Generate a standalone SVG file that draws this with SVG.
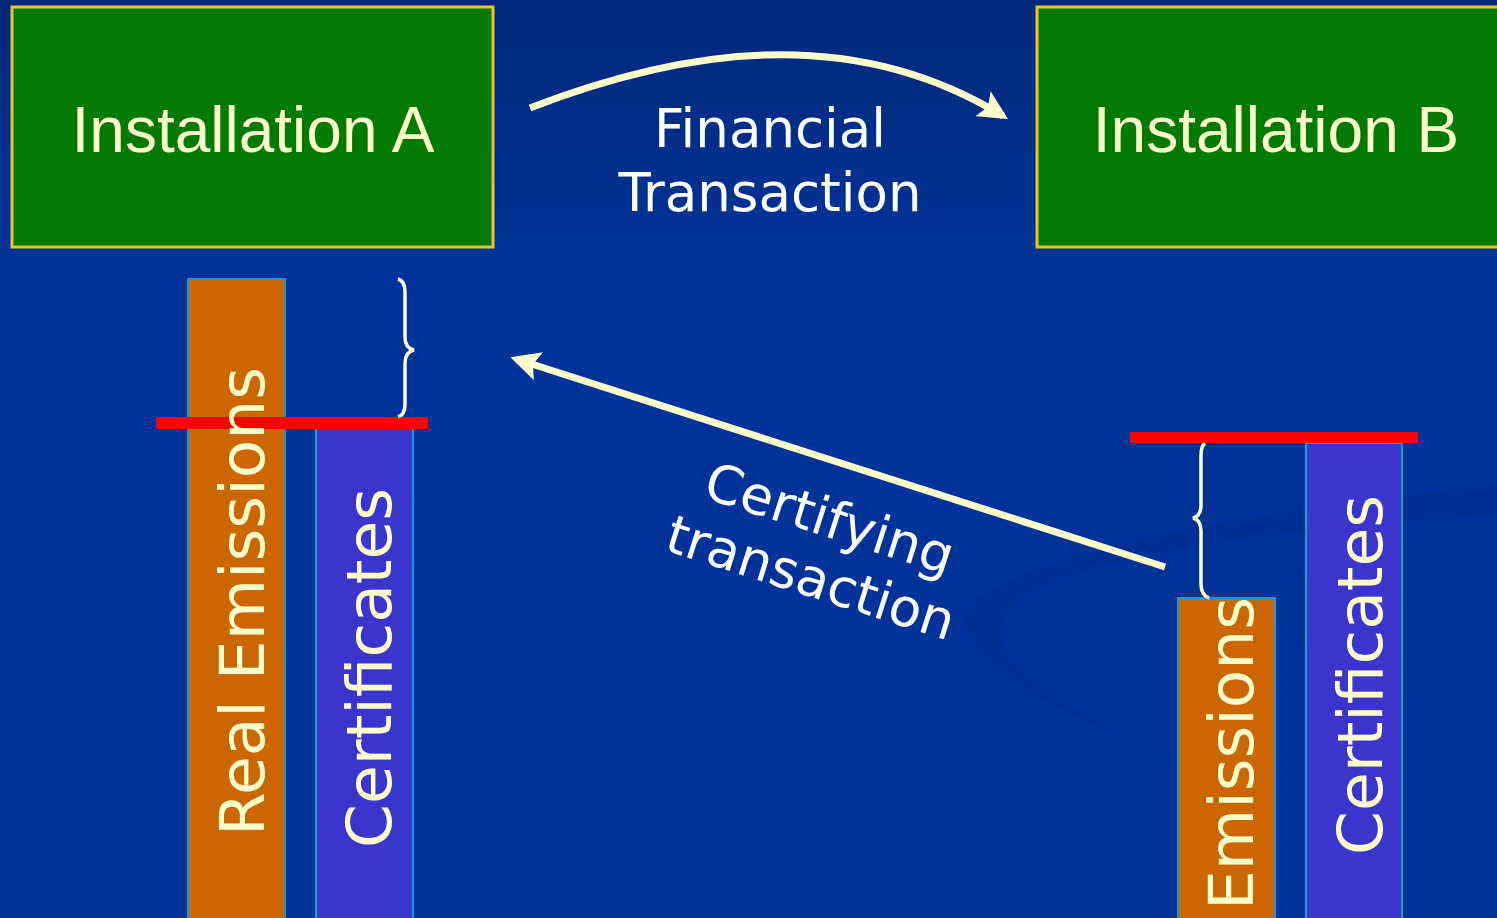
<svg xmlns="http://www.w3.org/2000/svg" width="1497" height="918" viewBox="0 0 1497 918">
<defs>
<linearGradient id="bg" x1="0" y1="0" x2="0" y2="1">
<stop offset="0" stop-color="#00287a"/>
<stop offset="0.3" stop-color="#003399"/>
<stop offset="1" stop-color="#003399"/>
</linearGradient>
<marker id="ah" viewBox="0 0 10 10" refX="8" refY="5" markerWidth="4.2" markerHeight="4.2" orient="auto" markerUnits="strokeWidth">
<path d="M0,0 L10,5 L0,10 L2,5 Z" fill="#ffffcc"/>
</marker>
<style>
.box{fill:#007a00;stroke:#f0c030;stroke-width:3}
.boxt{font-family:"Liberation Sans",Arial,sans-serif;font-size:64px;fill:#ffffcc;text-anchor:middle}
.lbl{font-family:"DejaVu Sans",Verdana,sans-serif;font-size:53px;fill:#ffffff;text-anchor:middle}
.bart{font-family:"DejaVu Sans",Verdana,sans-serif;font-size:63px;fill:#ffffcc}
.em{fill:#cc6600;stroke:#1a9bd0;stroke-width:2}
.ce{fill:#3a35cc;stroke:#1a9bd0;stroke-width:2}
.red{fill:#ff0000}
.arr{fill:none;stroke:#ffffcc;stroke-width:7;marker-end:url(#ah)}
.brace{fill:none;stroke:#ffffcc;stroke-width:3.5}
</style>
</defs>
<rect width="1497" height="918" fill="url(#bg)"/>
<path d="M1497,485 C1300,505 1050,545 975,600 C930,650 1050,710 1200,770 L1260,800 C1120,730 960,670 1010,610 C1060,555 1300,525 1497,515 Z" fill="#002d8a" opacity="0.45"/>
<path d="M1497,530 C1350,550 1220,580 1300,640 C1350,680 1440,710 1497,730 Z" fill="#00318f" opacity="0.35"/>

<g id="installationA">
<rect class="box" x="12" y="7" width="481" height="240"/>
<text class="boxt" x="253" y="152">Installation A</text>
</g>
<g id="installationB">
<rect class="box" x="1037" y="7" width="470" height="240"/>
<text class="boxt" x="1276" y="152">Installation B</text>
</g>

<g id="financialLabel">
<text class="lbl" x="770" y="147">Financial</text>
<text class="lbl" x="770" y="211">Transaction</text>
</g>

<g id="barsA">
<rect class="em" x="188" y="279" width="97" height="645"/>
<rect class="ce" x="316" y="425" width="97" height="500"/>
<rect class="red" x="156" y="417" width="272" height="12"/>
<text class="bart" transform="translate(264,836) rotate(-90)">Real Emissions</text>
<text class="bart" transform="translate(391,848) rotate(-90)">Certificates</text>
<path class="brace" d="M398,279 Q405,281 405,292 V337 Q405,348 414,350 Q405,352 405,363 V404 Q405,415 398,417"/>
</g>

<g id="barsB">
<rect class="em" x="1178" y="598" width="97" height="330"/>
<rect class="ce" x="1306" y="443" width="96" height="480"/>
<rect class="red" x="1130" y="432" width="288" height="11"/>
<text class="bart" transform="translate(1253,910) rotate(-90)">Emissions</text>
<text class="bart" transform="translate(1382,855) rotate(-90)">Certificates</text>
<path class="brace" d="M1205,443 Q1201,446 1201,456 V505 Q1201,516 1193,518 Q1201,520 1201,531 V584 Q1201,595 1209,598"/>
</g>

<g id="certifyingLabel">
<g transform="translate(830,518) rotate(17.7)">
<text class="lbl" x="0" y="19">Certifying</text>
<text class="lbl" x="0" y="81">transaction</text>
</g>
</g>

<g id="connectors">
<path class="arr" d="M530,108 C680,50 850,22 1003,116"/>
<path class="arr" d="M1165,567 L516,359"/>
</g>
</svg>
